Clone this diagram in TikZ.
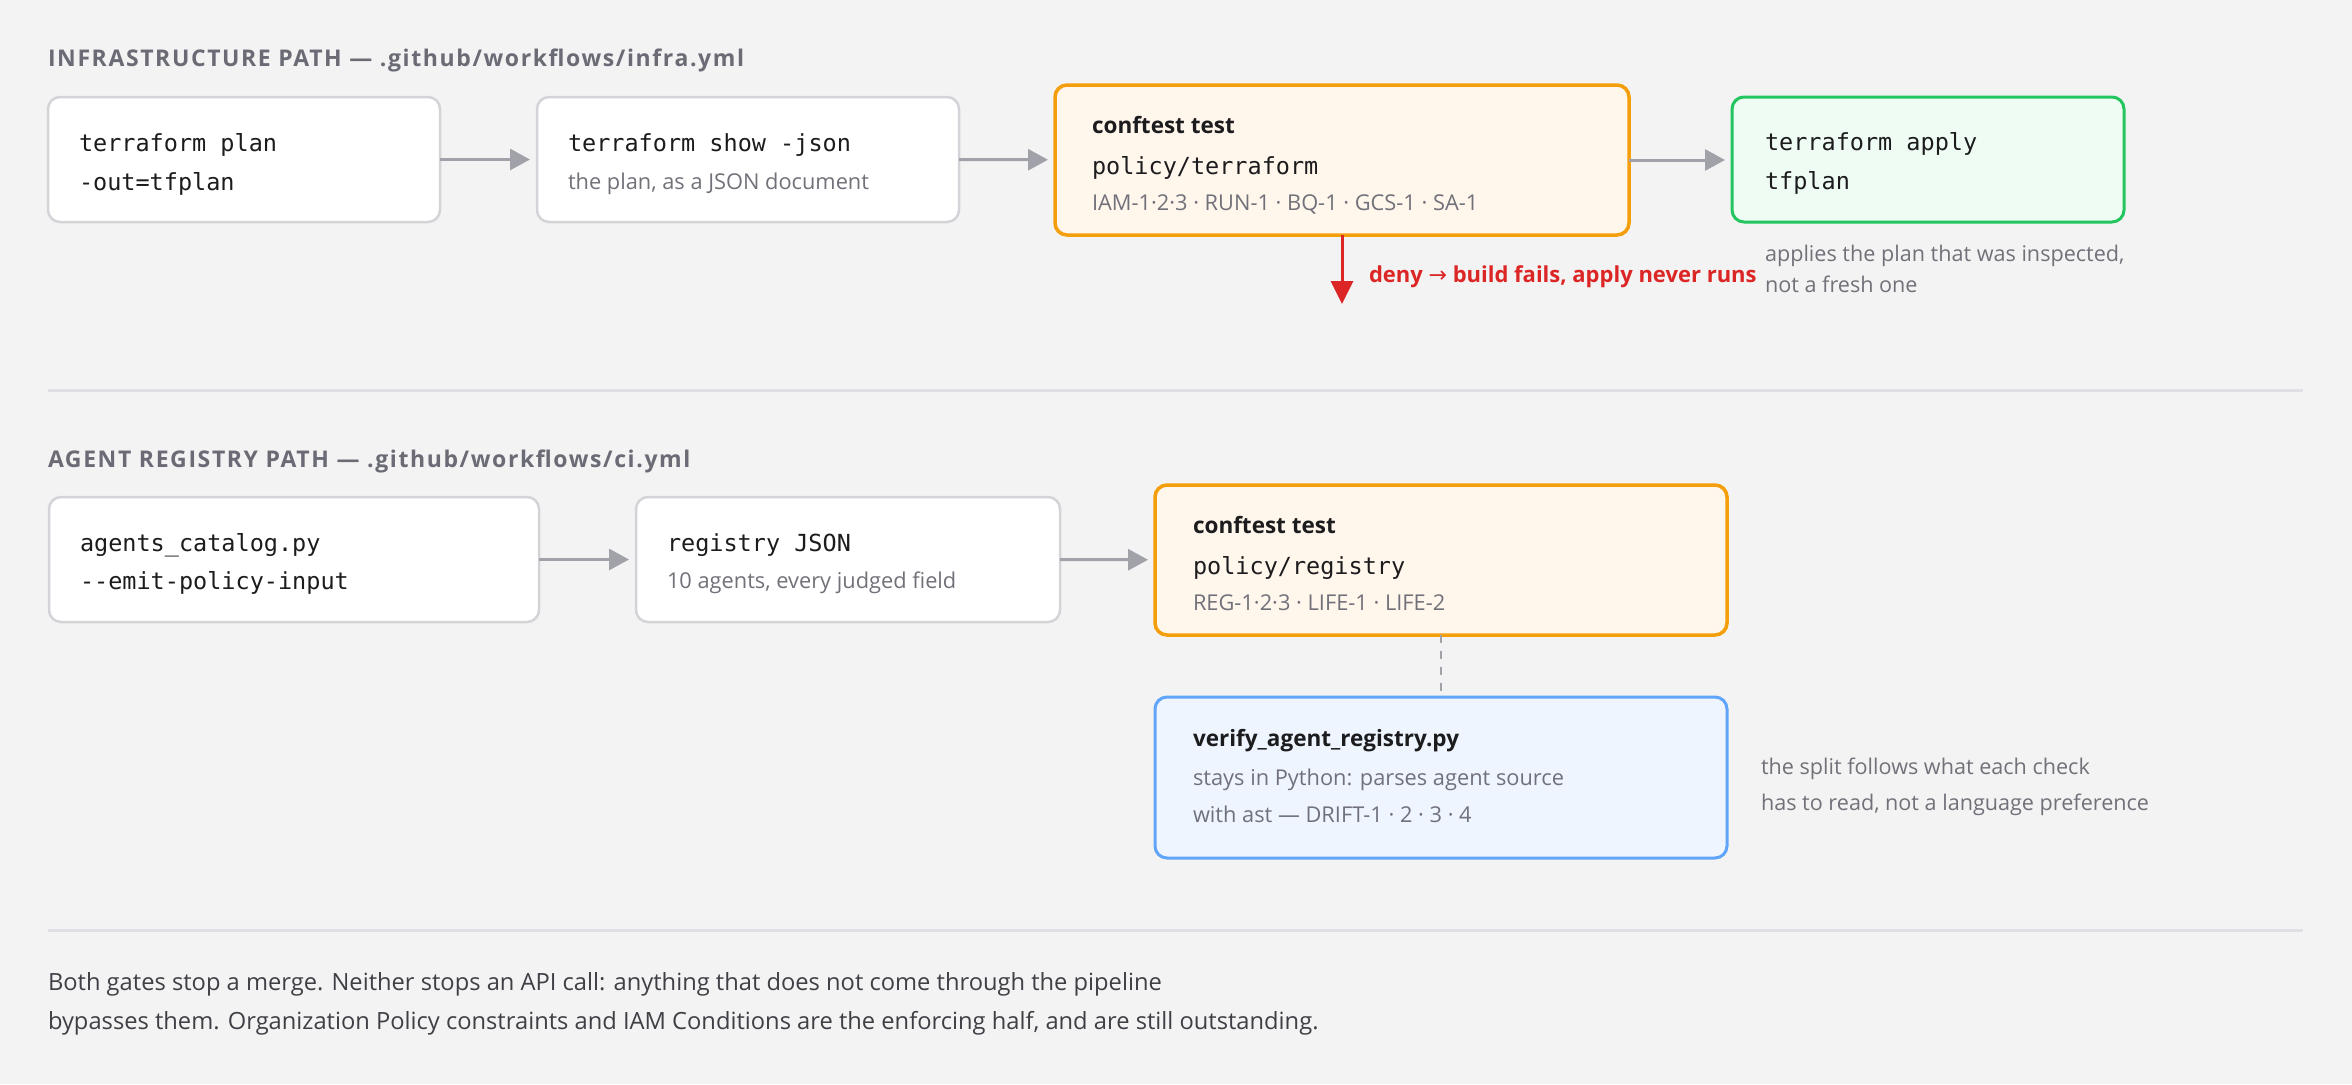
\documentclass[tikz,border=0pt]{standalone}
\usepackage{fontspec}
\setmainfont{Open Sans}
\setmonofont{DejaVu Sans Mono}
\newfontfamily\symfont{DejaVu Sans}
\usetikzlibrary{arrows.meta}
\definecolor{bg}{HTML}{F3F3F3}
\definecolor{boxborder}{HTML}{D4D4D8}
\definecolor{orangeb}{HTML}{F59E0B}
\definecolor{orangef}{HTML}{FFF6EC}
\definecolor{greenb}{HTML}{22C55E}
\definecolor{greenf}{HTML}{EFFCF3}
\definecolor{blueb}{HTML}{60A5FA}
\definecolor{bluef}{HTML}{EEF5FE}
\definecolor{arrowc}{HTML}{A1A1AA}
\definecolor{redc}{HTML}{DC2626}
\definecolor{sepc}{HTML}{E0E0E4}
\definecolor{titlec}{HTML}{6B6B76}
\definecolor{greyt}{HTML}{71717A}
\definecolor{darkt}{HTML}{1C1C1E}
\definecolor{footc}{HTML}{3F3F46}
\tikzset{
  box/.style={rectangle, rounded corners=12pt, inner sep=0pt, outer sep=0pt},
  plainbox/.style={box, draw=boxborder, line width=2.5pt, fill=white},
  gatebox/.style={box, draw=orangeb, line width=3.5pt, fill=orangef},
  applybox/.style={box, draw=greenb, line width=3pt, fill=greenf},
  pybox/.style={box, draw=blueb, line width=3pt, fill=bluef},
  txt/.style={anchor=base west, inner sep=0pt, outer sep=0pt},
  monot/.style={txt, text=darkt, font=\ttfamily\fontsize{23.5}{28}\selectfont},
  headt/.style={txt, text=darkt, font=\bfseries\fontsize{22.5}{27}\selectfont},
  greyt/.style={txt, text=greyt, font=\fontsize{21.8}{26}\selectfont},
  notet/.style={txt, text=greyt, font=\fontsize{21.6}{26}\selectfont},
  titlet/.style={txt, text=titlec, font=\bfseries\fontsize{23}{27}\selectfont\addfontfeatures{LetterSpace=7}},
  foott/.style={txt, text=footc, font=\fontsize{23.7}{28}\selectfont},
  redt/.style={txt, text=redc, font=\bfseries\fontsize{22}{26}\selectfont},
  flow/.style={draw=arrowc, line width=3pt, -{Triangle[length=20pt, width=21pt]}, shorten >=7pt},
  denyarrow/.style={draw=redc, line width=3pt, -{Triangle[length=23pt, width=22pt]}},
  dashlink/.style={draw=arrowc, line width=2pt, dash pattern=on 8pt off 8pt},
  sep/.style={draw=sepc, line width=3pt},
}
\begin{document}
\begin{tikzpicture}[x=1pt, y=-1pt]
\fill[bg] (0,0) rectangle (2352,1084);
\useasboundingbox (0,0) rectangle (2352,1084);

% ---------- Infrastructure path ----------
\node[titlet] (t1) at (48,66) {INFRASTRUCTURE PATH — .github/workflows/infra.yml};

\node[plainbox, minimum width=392pt, minimum height=125pt] (plan) at (244,159.5) {};
\node[monot] (plan1) at (79,151) {terraform plan};
\node[monot] (plan2) at (79,190) {-out=tfplan};

\node[plainbox, minimum width=422pt, minimum height=125pt] (show) at (748,159.5) {};
\node[monot] (show1) at (568,151) {terraform show -json};
\node[greyt] (show2) at (568,189) {the plan, as a JSON document};

\node[gatebox, minimum width=574pt, minimum height=150pt] (conf1) at (1342,160) {};
\node[headt] (conf1a) at (1092,133) {conftest test};
\node[monot] (conf1b) at (1092,174) {policy/terraform};
\node[greyt] (conf1c) at (1092,210) {IAM-1·2·3 · RUN-1 · BQ-1 · GCS-1 · SA-1};

\node[applybox, minimum width=392pt, minimum height=125pt] (apply) at (1928,159.5) {};
\node[monot] (apply1) at (1765,150) {terraform apply};
\node[monot] (apply2) at (1765,189) {tfplan};

\node[notet] (note1a) at (1765,261) {applies the plan that was inspected,};
\node[notet] (note1b) at (1765,292) {not a fresh one};

\coordinate (denyend) at (1342,304);
\node[redt] (deny) at (1369,282) {deny {\symfont\mdseries→} build fails, apply never runs};

\draw[flow] (plan) -- (show);
\draw[flow] (show) -- (conf1);
\draw[flow] (conf1.east) -- (apply.west |- conf1.east);
\draw[denyarrow] (conf1.south) -- (denyend);

\draw[sep] (48,390) -- (2303,390);

% ---------- Agent registry path ----------
\node[titlet] (t2) at (48,467) {AGENT REGISTRY PATH — .github/workflows/ci.yml};

\node[plainbox, minimum width=490pt, minimum height=125pt] (catalog) at (294,559.5) {};
\node[monot] (cat1) at (80,551) {agents\_catalog.py};
\node[monot] (cat2) at (80,589) {-{}-emit-policy-input};

\node[plainbox, minimum width=424pt, minimum height=125pt] (regjson) at (848,559.5) {};
\node[monot] (reg1) at (667,551) {registry JSON};
\node[greyt] (reg2) at (667,588) {10 agents, every judged field};

\node[gatebox, minimum width=572pt, minimum height=150pt] (conf2) at (1441,560) {};
\node[headt] (conf2a) at (1193,533) {conftest test};
\node[monot] (conf2b) at (1193,574) {policy/registry};
\node[greyt] (conf2c) at (1193,610) {REG-1·2·3 · LIFE-1 · LIFE-2};

\node[pybox, minimum width=572pt, minimum height=161pt] (verify) at (1441,777.5) {};
\node[headt] (ver1) at (1193,746) {verify\_agent\_registry.py};
\node[greyt] (ver2) at (1193,785) {stays in Python: parses agent source};
\node[greyt] (ver3) at (1193,822) {with ast — DRIFT-1 · 2 · 3 · 4};

\node[notet] (note2a) at (1761,774) {the split follows what each check};
\node[notet] (note2b) at (1761,810) {has to read, not a language preference};

\draw[flow] (catalog) -- (regjson);
\draw[flow] (regjson) -- (conf2);
\draw[dashlink] (conf2.south) -- (verify.north);

\draw[sep] (48,930) -- (2303,930);

% ---------- Footer ----------
\node[foott] (foot1) at (48,990) {Both gates stop a merge. Neither stops an API call: anything that does not come through the pipeline};
\node[foott] (foot2) at (48,1029) {bypasses them. Organization Policy constraints and IAM Conditions are the enforcing half, and are still outstanding.};
\end{tikzpicture}
\end{document}
